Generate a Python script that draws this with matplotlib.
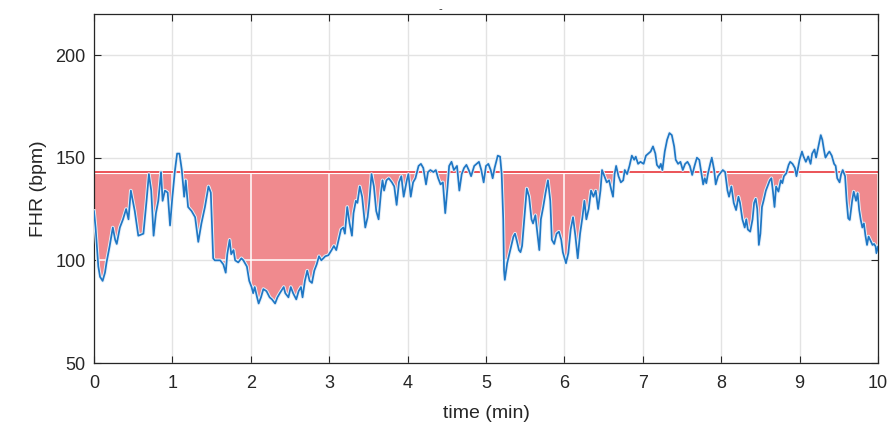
import numpy as np
import matplotlib.pyplot as plt
import matplotlib.patheffects as pe
from matplotlib.path import Path

plt.rcParams['font.family'] = ['Liberation Sans', 'DejaVu Sans']

# DATA
t_min = [0.00, 0.02, 0.055, 0.077, 0.11, 0.14, 0.16, 0.20, 0.24, 0.27, 0.29, 0.33, 0.37, 0.41, 0.44,
         0.47, 0.49, 0.52, 0.565, 0.63, 0.67, 0.70, 0.73, 0.76, 0.79, 0.82, 0.855, 0.875, 0.905, 0.94,
         0.97, 1.00, 1.03, 1.06, 1.09, 1.12, 1.15, 1.17, 1.20, 1.245, 1.29, 1.33, 1.37, 1.415, 1.46,
         1.49, 1.52, 1.54, 1.61, 1.65, 1.68, 1.70, 1.73, 1.75, 1.78, 1.80, 1.84, 1.88, 1.905, 1.95,
         1.98, 2.01, 2.03, 2.05, 2.08, 2.10, 2.13, 2.16, 2.20, 2.24, 2.27, 2.31, 2.34, 2.37, 2.42,
         2.44, 2.48, 2.51, 2.54, 2.58, 2.61, 2.64, 2.66, 2.69, 2.72, 2.75, 2.78, 2.81, 2.84, 2.87,
         2.90, 2.95, 2.99, 3.03, 3.06, 3.09, 3.12, 3.15, 3.18, 3.20, 3.23, 3.26, 3.29, 3.31, 3.34,
         3.36, 3.39, 3.42, 3.46, 3.49, 3.51, 3.54, 3.57, 3.60, 3.63, 3.66, 3.68, 3.70, 3.73, 3.76,
         3.80, 3.83, 3.86, 3.89, 3.92, 3.95, 3.99, 4.01, 4.04, 4.07, 4.10, 4.14, 4.17, 4.20, 4.235,
         4.26, 4.29, 4.33, 4.36, 4.39, 4.42, 4.45, 4.48, 4.51, 4.53, 4.56, 4.59, 4.63, 4.66, 4.69,
         4.72, 4.75, 4.78, 4.81, 4.85, 4.88, 4.91, 4.94, 4.97, 5.00, 5.03, 5.06, 5.085, 5.11, 5.15,
         5.18, 5.20, 5.22, 5.23, 5.24, 5.27, 5.30, 5.32, 5.35, 5.37, 5.39, 5.42, 5.44, 5.46, 5.49,
         5.52, 5.55, 5.58, 5.60, 5.63, 5.65, 5.68, 5.70, 5.73, 5.76, 5.79, 5.82, 5.84, 5.87, 5.90,
         5.93, 5.96, 5.98, 6.02, 6.05, 6.08, 6.11, 6.14, 6.17, 6.20, 6.23, 6.255, 6.28, 6.31, 6.34,
         6.37, 6.40, 6.43, 6.46, 6.48, 6.52, 6.54, 6.57, 6.60, 6.62, 6.64, 6.66, 6.69, 6.72, 6.75,
         6.77, 6.80, 6.83, 6.86, 6.89, 6.91, 6.94, 6.97, 7.01, 7.04, 7.07, 7.10, 7.13, 7.16, 7.18,
         7.21, 7.23, 7.25, 7.28, 7.31, 7.34, 7.37, 7.40, 7.42, 7.45, 7.48, 7.51, 7.54, 7.57, 7.60,
         7.63, 7.66, 7.69, 7.72, 7.75, 7.77, 7.79, 7.81, 7.83, 7.86, 7.88, 7.91, 7.93, 7.96, 7.98,
         8.02, 8.05, 8.08, 8.10, 8.13, 8.16, 8.19, 8.22, 8.24, 8.27, 8.30, 8.32, 8.34, 8.37, 8.40,
         8.42, 8.44, 8.46, 8.48, 8.50, 8.52, 8.54, 8.57, 8.60, 8.62, 8.64, 8.66, 8.68, 8.70, 8.73,
         8.76, 8.78, 8.80, 8.83, 8.86, 8.88, 8.91, 8.94, 8.96, 8.98, 9.00, 9.03, 9.05, 9.08, 9.11,
         9.14, 9.16, 9.19, 9.21, 9.24, 9.27, 9.29, 9.31, 9.33, 9.36, 9.38, 9.41, 9.44, 9.46, 9.48,
         9.51, 9.53, 9.55, 9.58, 9.60, 9.62, 9.64, 9.67, 9.69, 9.72, 9.74, 9.76, 9.78, 9.80, 9.82,
         9.84, 9.86, 9.88, 9.90, 9.93, 9.95, 9.97, 9.98, 10.0]

fhr = [124, 116, 97, 92, 90, 94, 99, 107, 116, 110, 108, 116, 120, 125, 120,
       134, 130, 124, 112, 113, 129, 142, 134, 112, 123, 129, 143, 129, 134, 133,
       117, 131, 143, 152, 152, 144, 131, 139, 126, 124, 121, 109, 118, 126, 136,
       133, 101, 100, 100, 98, 94, 103, 110, 103, 105, 100, 99, 101, 100, 97,
       90, 87, 84, 87, 82, 79, 82, 86, 85, 82, 81, 79, 82, 84, 87,
       84, 82, 87, 84, 81, 85, 87, 82, 90, 95, 90, 89, 95, 98, 102,
       100, 102, 102.5, 105, 107, 105, 110, 115, 116, 113, 126, 118, 112, 123, 129,
       128, 136, 131, 116, 121, 128, 142, 136, 124, 120, 133, 139, 134, 139, 140,
       138, 136, 127, 138, 141, 131, 139, 142, 131, 138, 140, 146, 147, 145, 137,
       143, 144, 143, 144, 140, 137, 138, 123, 136, 146, 148, 144, 146, 134, 142,
       145, 146.5, 144, 141, 146, 147, 148, 144, 138, 146, 147, 144, 140, 145, 151,
       150.5, 142, 120, 95, 90.5, 98.6, 103.5, 106.7, 111.6, 113, 110, 105, 104, 107, 121,
       135, 131, 120, 118, 122, 115, 105, 120, 126, 133, 139, 129, 110, 108, 113,
       114, 110, 104, 98.6, 103.5, 115, 121, 112, 101, 113, 121, 129, 120, 125, 134,
       131, 134, 125, 134, 144, 140, 138, 139, 134, 131, 142, 146, 141, 138, 139,
       144, 142, 146, 151, 149, 150.5, 147, 148, 147, 151, 152, 153, 155.5, 152, 146.5,
       145, 147, 144, 153, 158.7, 162, 161, 155.5, 149, 147, 148, 144, 147, 148, 146,
       141.6, 146, 150, 149, 142, 137, 140, 137.6, 142, 147, 150, 144, 137, 141, 142,
       144, 143, 134, 131, 136, 128, 124.5, 131, 128, 120, 116, 120, 115, 114, 120,
       128, 130, 125, 107.5, 113, 126, 129, 134, 137, 139, 140, 133.5, 126, 136, 133.5,
       139, 137.6, 141, 142.4, 146.5, 148, 147, 145, 141, 145, 149, 153, 150.6, 148, 150.6,
       147, 152, 154, 150, 155.5, 161, 158.7, 154, 150, 152, 153, 151, 147, 146, 140,
       138, 142, 144, 141, 129, 120.5, 119.7, 129, 133.5, 129, 132.7, 124.6, 119.7, 116, 118,
       112, 107.5, 111.6, 110, 107.5, 108, 106.7, 103.5, 106.7]

baseline = 143
# deceleration episodes (shaded)
episodes = [(0.0, 4.52), (5.2, 6.64), (7.74, 7.85), (8.02, 8.86), (9.55, 10.0)]

t = np.array(t_min)
y = np.array(fhr)

fig = plt.figure(figsize=(8.93, 4.28), dpi=100)
ax = fig.add_axes([94/893, 65/428, 784/893, 349/428])

ax.set_xlim(0, 10)
ax.set_ylim(50, 220)
ax.set_xticks(range(0, 11))
ax.set_yticks([50, 100, 150, 200])
ax.grid(True, color='#e3e3e3', linewidth=1)
ax.set_axisbelow(True)

fills = []
for a, b in episodes:
    m = (t >= a) & (t <= b)
    c = ax.fill_between(t[m], y[m], baseline, where=y[m] < baseline, interpolate=True,
                        color='#f08a8e', linewidth=0, zorder=1)
    fills.append(c)

# white grid over the shaded area
clip = Path.make_compound_path(*[p for c in fills for p in c.get_paths()])
for xv in range(0, 11):
    ln = ax.axvline(xv, color='white', lw=1.1, zorder=1.5)
    ln.set_clip_path(clip, ax.transData)
for yv in [100, 150, 200]:
    ln = ax.axhline(yv, color='white', lw=1.1, zorder=1.5)
    ln.set_clip_path(clip, ax.transData)

ax.axhline(baseline, color='#e8363b', lw=1.2, zorder=2,
           path_effects=[pe.Stroke(linewidth=3, foreground='white'), pe.Normal()])
ax.plot(t, y, color='#1f77c4', lw=1.25, zorder=3,
        path_effects=[pe.Stroke(linewidth=2.6, foreground='#e6f0fa'), pe.Normal()])

ax.set_xlabel('time (min)', fontsize=14, color='#262626', labelpad=9)
ax.set_ylabel('FHR (bpm)', fontsize=14, color='#262626', labelpad=6)
ax.tick_params(direction='in', length=5, width=0.8, top=True, right=True,
               labelsize=13, colors='#262626', pad=6)
ax.tick_params(axis='x', pad=9)
for s in ax.spines.values():
    s.set_color('#262626')
    s.set_linewidth(0.9)

fig.text(440/893, 1 - 9/428, '-', fontsize=8, ha='center', va='center', color='#262626')

fig.savefig('out.png', dpi=100)
